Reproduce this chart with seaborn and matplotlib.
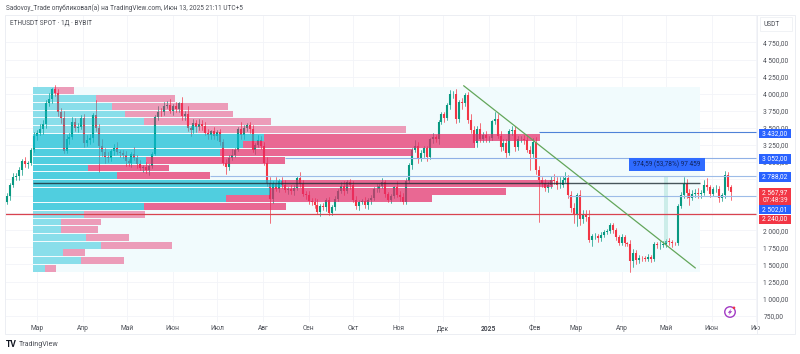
import numpy as np
import pandas as pd
import matplotlib
matplotlib.use("Agg")
import matplotlib.pyplot as plt
import matplotlib.dates as mdates
from matplotlib.patches import Rectangle, Ellipse, Polygon
import seaborn as sns

# 2-day candles, closes from the picture
closes = [
    2420, 2500, 2660, 2780, 2800, 2880, 3010, 2970, 2990, 3180,
    3385, 3430, 3490, 3560, 3870, 3920, 4065, 4005, 3730, 3640,
    3160, 3330, 3370, 3590, 3500, 3510, 3650, 3280, 3320, 3350,
    3690, 3500, 3240, 3150, 3080, 3060, 3155, 3200, 3140, 3130,
    3100, 3010, 2980, 3115, 3060, 2970, 2910, 2930, 2880, 2945,
    3120, 3660, 3735, 3730, 3825, 3840, 3750, 3815, 3770, 3865,
    3680, 3705, 3500, 3470, 3565, 3510, 3560, 3520, 3420, 3390,
    3450, 3375, 3440, 3300, 2980, 2930, 3065, 3100, 3175, 3485,
    3390, 3500, 3535, 3480, 3175, 3250, 3320, 3230, 2990, 2690,
    2460, 2680, 2610, 2720, 2660, 2590, 2610, 2570, 2620, 2770,
    2680, 2530, 2520, 2430, 2420, 2370, 2270, 2360, 2340, 2440,
    2260, 2340, 2465, 2580, 2650, 2580, 2700, 2660, 2450, 2350,
    2415, 2425, 2370, 2440, 2470, 2605, 2605, 2645, 2700, 2525,
    2440, 2500, 2630, 2520, 2490, 2420, 2720, 2960, 3180, 3240,
    3060, 3130, 3200, 3070, 3330, 3360, 3330, 3580, 3700, 3640,
    3830, 3990, 3990, 3630, 3880, 3870, 3980, 3620, 3470, 3280,
    3490, 3330, 3400, 3350, 3350, 3600, 3635, 3380, 3220, 3280,
    3130, 3450, 3470, 3220, 3330, 3340, 3320, 3180, 3110, 3300,
    2880, 2730, 2690, 2620, 2660, 2730, 2720, 2660, 2670, 2740,
    2770, 2510, 2330, 2240, 2520, 2170, 2240, 2200, 1865, 1910,
    1910, 1885, 1930, 1980, 1985, 2080, 2010, 1895, 1820, 1905,
    1815, 1805, 1555, 1670, 1565, 1595, 1590, 1585, 1615, 1580,
    1795, 1785, 1790, 1800, 1840, 1830, 1815, 1810, 2350, 2510,
    2680, 2550, 2480, 2525, 2550, 2530, 2550, 2660, 2630, 2530,
    2600, 2610, 2480, 2510, 2815, 2640, 2568,
]
wick_up = [
    30, 40, 30, 60, 40, 50, 30, 60, 30, 20,
    60, 40, 60, 60, 40, 90, 25, 60, 60, 60,
    110, 70, 60, 70, 60, 60, 40, 60, 80, 60,
    30, 220, 60, 100, 50, 60, 30, 60, 90, 40,
    50, 60, 30, 30, 110, 40, 60, 30, 70, 30,
    20, 30, 90, 60, 60, 50, 80, 30, 60, 20,
    90, 40, 110, 30, 60, 50, 70, 60, 70, 60,
    20, 60, 30, 40, 30, 60, 40, 90, 30, 30,
    100, 40, 30, 50, 60, 30, 70, 60, 60, 90,
    90, 40, 100, 30, 60, 70, 30, 60, 50, 30,
    90, 60, 40, 60, 40, 60, 90, 30, 40, 30,
    50, 30, 40, 20, 60, 70, 30, 50, 60, 50,
    30, 40, 60, 30, 40, 30, 70, 40, 70, 40,
    30, 30, 20, 90, 60, 50, 40, 20, 30, 80,
    60, 50, 40, 30, 20, 60, 40, 30, 30, 30,
    40, 60, 50, 80, 30, 60, 30, 40, 90, 50,
    30, 80, 40, 50, 30, 20, 90, 70, 70, 50,
    60, 30, 60, 60, 50, 40, 60, 70, 60, 50,
    60, 60, 50, 60, 40, 70, 90, 60, 110, 50,
    80, 40, 60, 70, 30, 70, 60, 60, 90, 40,
    50, 40, 40, 30, 40, 30, 30, 30, 40, 40,
    30, 20, 50, 60, 40, 40, 30, 40, 40, 30,
    30, 40, 50, 40, 30, 40, 30, 20, 40, 50,
    100, 70, 50, 60, 60, 70, 40, 70, 100, 30,
    30, 50, 40, 30, 60, 40, 20,
]
wick_down = [
    40, 30, 60, 30, 50, 60, 70, 40, 60, 40,
    30, 60, 40, 80, 60, 50, 60, 40, 60, 70,
    30, 30, 60, 30, 40, 60, 30, 60, 50, 60,
    60, 50, 390, 60, 90, 60, 40, 50, 30, 60,
    40, 70, 40, 60, 30, 60, 30, 50, 40, 70,
    30, 20, 50, 60, 40, 40, 30, 60, 40, 40,
    60, 70, 40, 90, 40, 70, 40, 50, 30, 60,
    60, 40, 60, 50, 30, 110, 40, 30, 30, 20,
    60, 50, 40, 50, 30, 60, 30, 40, 30, 40,
    350, 60, 30, 50, 40, 30, 60, 40, 50, 30,
    40, 30, 60, 40, 50, 40, 30, 60, 40, 60,
    40, 30, 40, 30, 40, 60, 30, 50, 30, 40,
    50, 30, 40, 60, 50, 30, 40, 50, 30, 40,
    30, 40, 30, 30, 60, 40, 30, 30, 60, 40,
    70, 40, 60, 50, 30, 50, 40, 60, 30, 60,
    30, 60, 50, 60, 40, 90, 50, 50, 40, 60,
    60, 40, 30, 50, 50, 30, 40, 30, 60, 40,
    50, 30, 60, 60, 40, 30, 50, 40, 220, 40,
    60, 605, 50, 40, 60, 40, 40, 60, 40, 30,
    30, 40, 60, 130, 170, 90, 60, 60, 40, 90,
    40, 60, 40, 30, 40, 30, 50, 40, 40, 30,
    40, 40, 170, 90, 60, 50, 40, 40, 30, 40,
    30, 40, 60, 40, 40, 50, 60, 30, 20, 20,
    40, 70, 110, 40, 40, 50, 60, 30, 40, 40,
    30, 40, 60, 50, 30, 50, 120,
]

# volume profile rows, top to bottom
buy_volume = [21.5, 63.5, 79.5, 92.5, 111.5, 165.5, 231.5, 210.5, 187.5, 113.5, 55.5, 84.5,
              249.5, 237.5, 193.5, 111.5, 51.5, 28.5, 28.5, 53.5, 68.5, 30.5, 48.5, 12.5]
sell_volume = [20, 79, 116, 108, 127, 208, 276, 232, 193, 139, 81, 93,
               271, 236, 206, 142, 61, 40, 37, 43, 71, 22, 43, 11]
value_area = [0, 0, 0, 0, 0, 0, 1, 1, 1, 1, 1, 1, 1, 1, 1, 1, 0, 0, 0, 0, 0, 0, 0, 0]

price_ticks = [750, 1000, 1250, 1500, 1750, 2000, 2250, 2500, 2750, 3000, 3250, 3500, 3750, 4000, 4250, 4500, 4750]
price_labels = ["750,00", "1 000,00", "1 250,00", "1 500,00", "1 750,00", "2 000,00", "", "",
                "", "3 000,00", "3 250,00", "3 500,00", "3 750,00", "4 000,00", "4 250,00", "4 500,00", "4 750,00"]
month_dates = ["2024-03-01", "2024-04-01", "2024-05-01", "2024-06-01", "2024-07-01", "2024-08-01", "2024-09-01",
               "2024-10-01", "2024-11-01", "2024-12-01", "2025-01-01", "2025-02-01", "2025-03-01", "2025-04-01",
               "2025-05-01", "2025-06-01", "2025-07-01"]
month_labels = ["Мар", "Апр", "Май", "Июн", "Июл", "Авг", "Сен", "Окт", "Ноя", "Дек", "2025", "Фев", "Мар", "Апр",
                "Май", "Июн", "Ию"]

level_prices = [3432, 3052, 2788, 2502]
level_starts = ["2025-02-04", "2024-08-16", "2024-06-26", "2025-02-24"]
level_colors = ["#4f82d8", "#8fb0e6", "#9dbce8", "#9dbce8"]
support_price = 2240
poc_price = 2687
trend_dates = ["2024-12-15", "2025-05-21"]
trend_prices = [4117, 1448]
profile_low, profile_high = 1388, 4098
profile_start, profile_end = "2024-02-27", "2025-05-24"

UP = "#089981"
DOWN = "#f23645"
CYAN = "#0cbcd3"
PINK = "#e72a66"
TEXT = "#4a4d55"
FONT = ["Roboto", "DejaVu Sans"]

sns.set_theme(style="white")
plt.rcParams["font.family"] = FONT
plt.rcParams["axes.unicode_minus"] = False


def px_x(x):
    return x / 800


def px_y(y):
    return 1 - y / 354


# свечи в длинном формате для lineplot
def candle_frames():
    dates = pd.date_range("2024-02-08", periods=len(closes), freq="2D")
    df = pd.DataFrame({"date": dates, "close": closes, "up": wick_up, "down": wick_down})
    df["open"] = df["close"].shift(1).fillna(2400)
    df["candle"] = np.arange(len(df))
    df["dir"] = np.where(df["close"] >= df["open"], "up", "down")
    df["high"] = df[["open", "close"]].max(axis=1) + df["up"]
    df["low"] = df[["open", "close"]].min(axis=1) - df["down"]
    wicks = df.melt(id_vars=["date", "candle", "dir"], value_vars=["high", "low"], value_name="price")
    bodies = df.melt(id_vars=["date", "candle", "dir"], value_vars=["open", "close"], value_name="price")
    return wicks, bodies


def draw_profile(ax):
    left = mdates.date2num(pd.Timestamp(profile_start))
    right = mdates.date2num(pd.Timestamp(profile_end))
    ax.add_patch(Rectangle((left, profile_low), right - left, profile_high - profile_low,
                           facecolor="#f1fbfd", edgecolor="none", zorder=1))
    edges = np.linspace(profile_high, profile_low, len(buy_volume) + 1)
    row = edges[0] - edges[1]
    to_days = 1 / 1.477
    for i in range(len(buy_volume)):
        alpha = 0.7 if value_area[i] else 0.45
        center = edges[i] - row / 2
        buy = buy_volume[i] * to_days
        sell = sell_volume[i] * to_days
        ax.barh(center, buy, left=left, height=row * 0.88, color=CYAN, alpha=alpha, zorder=3, linewidth=0)
        ax.barh(center, sell, left=left + buy, height=row * 0.88, color=PINK, alpha=alpha, zorder=3, linewidth=0)
    ax.hlines(poc_price, left, right, color="#1c2b33", lw=1.0, alpha=0.8, zorder=4)


def px_box(fig, x0, y0, x1, y1, color, edge="none"):
    fig.add_artist(Rectangle((px_x(x0), px_y(y1)), (x1 - x0) / 800, (y1 - y0) / 354, transform=fig.transFigure,
                             facecolor=color, edgecolor=edge, lw=0.6, zorder=5))


def px_text(fig, x, y, s, size=4.8, color=TEXT, ha="left", **kw):
    fig.text(px_x(x), px_y(y), s, fontsize=size, color=color, ha=ha, va="center", zorder=6, **kw)


def draw_chrome(fig):
    # рамка панели
    fig.add_artist(Rectangle((px_x(5), px_y(334)), 790 / 800, 319 / 354, transform=fig.transFigure,
                             facecolor="none", edgecolor="#eceef3", lw=0.7, zorder=2))
    fig.add_artist(plt.Line2D([px_x(756.5)] * 2, [px_y(15), px_y(334)], color="#eceef3", lw=0.7, zorder=2))

    px_text(fig, 6, 8.5, "Sadovoy_Trade опубликовал(а) на TradingView.com, Июн 13, 2025 21:11 UTC+5", size=4.7)
    px_text(fig, 10, 23.5, "ETHUSDT SPOT · 1Д · BYBIT", size=4.7)
    px_box(fig, 760, 17, 792, 31, "white", edge="#eef0f4")
    px_text(fig, 772, 24, "USDT", ha="center")

    # подписи уровней
    px_box(fig, 759, 129, 790.5, 138, "#2962ff")
    px_text(fig, 775, 133.5, "3 432,00", color="white", ha="center")
    px_box(fig, 759, 154.5, 790.5, 163.5, "#2962ff")
    px_text(fig, 775, 159, "3 052,00", color="white", ha="center")
    px_box(fig, 759, 172.5, 790.5, 181.5, "#2962ff")
    px_text(fig, 775, 177, "2 788,02", color="white", ha="center")
    px_box(fig, 759, 188, 790.5, 205, "#f23645")
    px_text(fig, 775, 192.5, "2 567,97", color="white", ha="center")
    px_text(fig, 775, 200.5, "07:48:39", color="#ffe3e6", ha="center")
    px_box(fig, 759, 205, 790.5, 214, "#2962ff")
    px_text(fig, 775, 209.5, "2 502,01", color="white", ha="center")
    px_box(fig, 759, 214.5, 790.5, 223.5, "#f23645")
    px_text(fig, 775, 219, "2 240,00", color="white", ha="center")

    px_box(fig, 629, 158, 705, 171, "#2f6bff")
    px_text(fig, 667, 164.5, "974,59 (53,78%) 97 459", color="#10245e", ha="center", size=4.7)

    # значок и логотип
    fig.add_artist(Ellipse((px_x(730), px_y(312)), 10.5 / 800, 10.5 / 354, transform=fig.transFigure,
                           facecolor="white", edgecolor="#a23bc4", lw=1.0, zorder=5))
    bolt = [(731.5, 308.5), (727.8, 312.8), (729.8, 312.8), (728.5, 315.5), (732.2, 311.2), (730.2, 311.2)]
    fig.add_artist(Polygon([(px_x(a), px_y(b)) for a, b in bolt], transform=fig.transFigure,
                           facecolor="#a23bc4", edgecolor="none", zorder=6))
    fig.add_artist(Ellipse((px_x(734), px_y(307.8)), 2.6 / 800, 2.6 / 354, transform=fig.transFigure,
                           facecolor="#f23645", edgecolor="none", zorder=7))
    px_text(fig, 5.5, 344.5, "TV", size=6.2, color="#131722", fontweight="bold")
    px_text(fig, 19, 344.5, "TradingView", size=5.1)


def main():
    fig = plt.figure(figsize=(8, 3.54), dpi=100, facecolor="white")
    ax = fig.add_axes([px_x(5), px_y(322), 751.5 / 800, 307 / 354])

    wicks, bodies = candle_frames()
    palette = {"up": UP, "down": DOWN}
    sns.lineplot(data=wicks, x="date", y="price", hue="dir", units="candle", estimator=None, palette=palette,
                 linewidth=0.5, legend=False, ax=ax, zorder=2)
    sns.lineplot(data=bodies, x="date", y="price", hue="dir", units="candle", estimator=None, palette=palette,
                 linewidth=1.5, legend=False, ax=ax, zorder=2, solid_capstyle="butt")

    draw_profile(ax)

    x_right = mdates.date2num(pd.Timestamp("2024-03-01")) + 487.4
    for price, start, color in zip(level_prices, level_starts, level_colors):
        ax.hlines(price, mdates.date2num(pd.Timestamp(start)), x_right, color=color, lw=0.8, zorder=4)
    ax.hlines(support_price, mdates.date2num(pd.Timestamp("2024-03-01")) - 21.67, x_right,
              color="#d9434f", lw=0.9, zorder=4)

    trend = pd.DataFrame({"date": pd.to_datetime(trend_dates), "price": trend_prices})
    sns.lineplot(data=trend, x="date", y="price", color="#63a65a", linewidth=0.9, ax=ax, zorder=5)

    # полоса диапазона
    band_l = mdates.date2num(pd.Timestamp("2025-04-30"))
    ax.add_patch(Rectangle((band_l, 1810), 2.7, 2788 - 1810, facecolor="#9fdcd2", alpha=0.45, edgecolor="none", zorder=3))

    ax.set_xlim(mdates.date2num(pd.Timestamp("2024-03-01")) - 21.67, x_right)
    ax.set_ylim(657.4, 5152.3)
    ax.set_xticks(pd.to_datetime(month_dates))
    ax.set_xticklabels(month_labels)
    ax.set_yticks(price_ticks)
    ax.set_yticklabels(price_labels)
    ax.yaxis.tick_right()
    ax.tick_params(axis="x", length=0, pad=2.4, labelsize=4.8, labelcolor=TEXT)
    ax.tick_params(axis="y", length=0, pad=5, labelsize=4.8, labelcolor=TEXT)
    for label in ax.get_xticklabels():
        if label.get_text() == "2025":
            label.set_fontweight("bold")
    ax.set_xlabel("")
    ax.set_ylabel("")
    ax.grid(True, color="#f2f4f8", lw=0.6)
    ax.set_axisbelow(True)
    sns.despine(ax=ax, left=True, right=True, top=True, bottom=True)

    draw_chrome(fig)
    fig.savefig("out.png", dpi=100)


if __name__ == "__main__":
    main()
